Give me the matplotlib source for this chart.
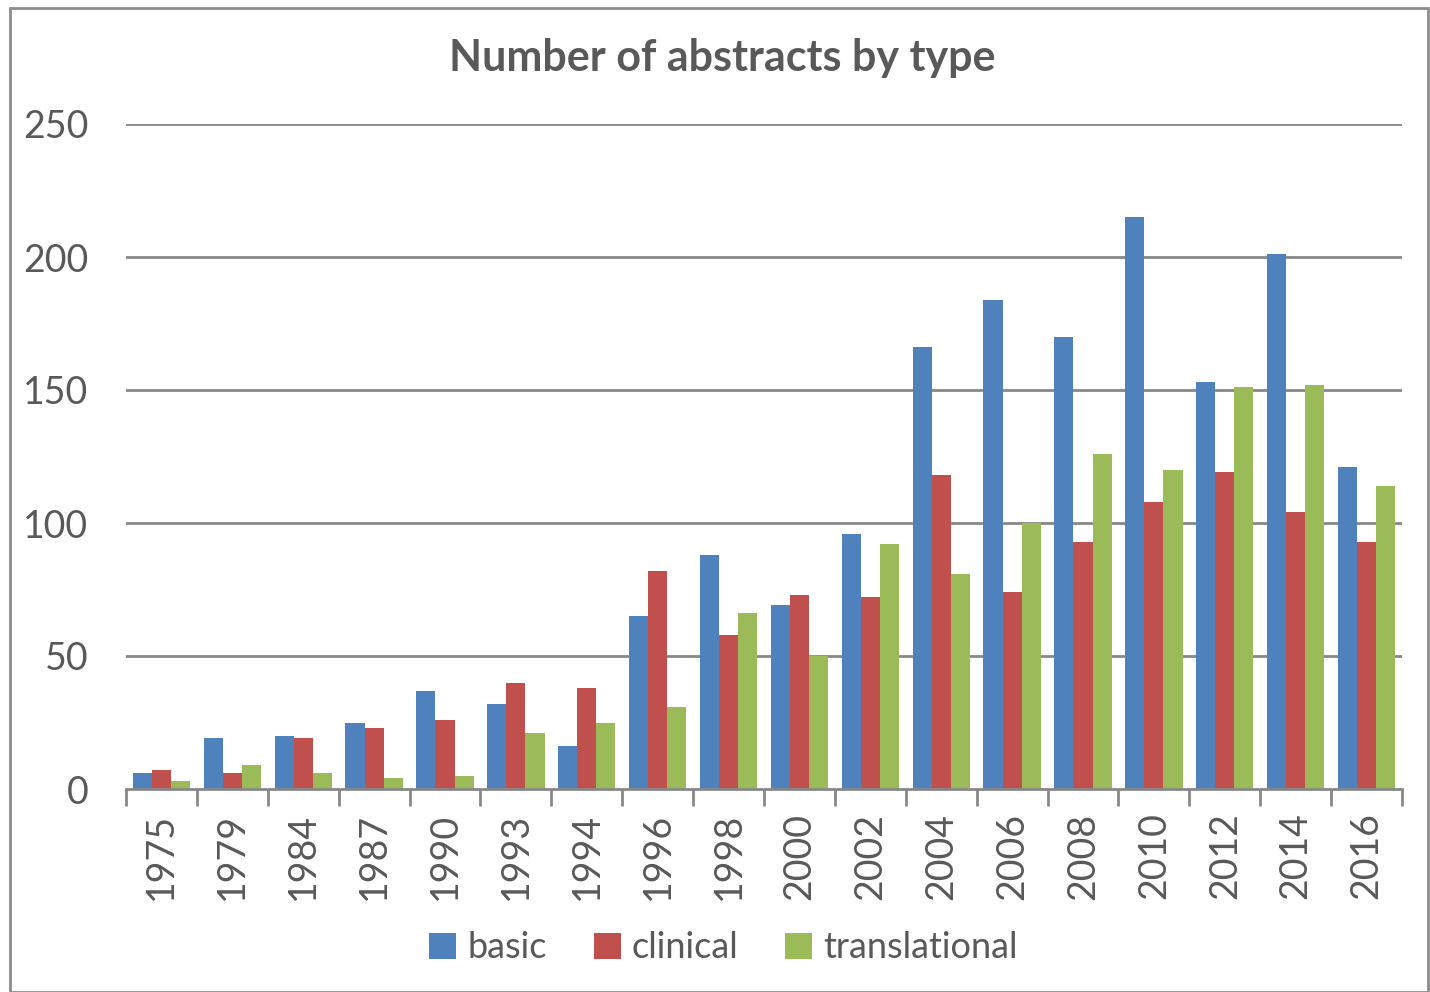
import matplotlib
matplotlib.use("Agg")
import matplotlib.pyplot as plt
import numpy as np
from matplotlib.patches import Rectangle

years = ["1975", "1979", "1984", "1987", "1990", "1993", "1994", "1996", "1998",
         "2000", "2002", "2004", "2006", "2008", "2010", "2012", "2014", "2016"]
basic = [6, 19, 20, 25, 37, 32, 16, 65, 88, 69, 96, 166, 184, 170, 215, 153, 201, 121]
clinical = [7, 6, 19, 23, 26, 40, 38, 82, 58, 73, 72, 118, 74, 93, 108, 119, 104, 93]
translational = [3, 9, 6, 4, 5, 21, 25, 31, 66, 50, 92, 81, 100, 126, 120, 151, 152, 114]
series_names = ["basic", "clinical", "translational"]
colors = ["#4F81BD", "#C0504D", "#9BBB59"]
yticks = [0, 50, 100, 150, 200, 250]

plt.rcParams['font.family'] = ['Lato', 'DejaVu Sans']
text_color = "#595959"
grid_color = "#888888"

W, H = 1430, 992
fig = plt.figure(figsize=(W / 100, H / 100), dpi=100)
ax = fig.add_axes([126 / W, 1 - 789 / H, (1402 - 126) / W, (789 - 124) / H])

x = np.arange(len(years))
bw = 0.27
for i, (vals, name, c) in enumerate(zip([basic, clinical, translational], series_names, colors)):
    ax.bar(x + (i - 1) * bw, vals, width=bw, color=c, label=name, zorder=3)

ax.set_xlim(-0.5, len(years) - 0.5)
ax.set_ylim(0, 250)
ax.set_yticks(yticks)
ax.set_yticklabels([str(v) for v in yticks], fontsize=27, color=text_color)
ax.tick_params(axis='y', length=0, pad=27)
for v in yticks[1:]:
    ax.axhline(v, color=grid_color, linewidth=2, zorder=1)

ax.set_xticks(x)
ax.set_xticklabels(years, rotation=90, fontsize=27, color=text_color)
ax.tick_params(axis='x', which='major', length=0, pad=17)
ax.set_xticks(np.arange(-0.5, len(years)), minor=True)
ax.tick_params(axis='x', which='minor', length=12, width=2, color=grid_color, direction='out')

for s in ['top', 'right', 'left']:
    ax.spines[s].set_visible(False)
ax.spines['bottom'].set_color(grid_color)
ax.spines['bottom'].set_linewidth(2)
ax.spines['bottom'].set_zorder(4)

fig.text(0.505, 1 - 58 / H, "Number of abstracts by type", ha='center', va='center',
         fontsize=31, fontweight='bold', color=text_color)

handles, labels = ax.get_legend_handles_labels()
leg = fig.legend(handles, labels, loc='center', bbox_to_anchor=(0.506, 1 - 948 / H),
                 ncol=3, frameon=False, fontsize=26, handlelength=0.75, handleheight=0.75,
                 handletextpad=0.3, columnspacing=1.3, labelcolor=text_color)

fig.patches.append(Rectangle((10 / W, 0), (1428 - 10) / W, 1 - 8 / H, transform=fig.transFigure,
                             fill=False, edgecolor="#8c8c8c", linewidth=2))

fig.savefig("out.png", dpi=100, facecolor="white")
